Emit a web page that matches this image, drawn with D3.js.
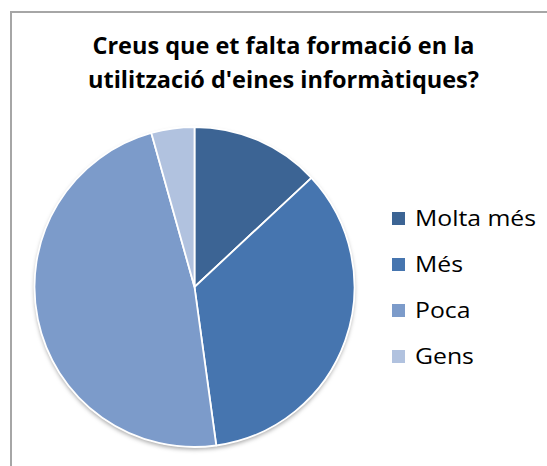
<!DOCTYPE html>
<html>
<head>
<meta charset="utf-8">
<script src="https://cdn.jsdelivr.net/npm/d3@7"></script>
<style>
  html, body { margin: 0; padding: 0; background: #fff; }
  svg { display: block; }
</style>
</head>
<body>
<svg id="chart" width="547" height="466"></svg>
<script>
// ---- data ----
const titleLines = ["Creus que et falta formació en la", "utilització d'eines informàtiques?"];
const categories = ["Molta més", "Més", "Poca", "Gens"];
const values = [3, 8, 11, 1];
const colors = ["#3C6494", "#4675AF", "#7C9BCA", "#B1C2DF"];

// ---- layout ----
const svg = d3.select("#chart");
const cx = 194.5, cy = 287, R = 160;
const fontFamily = "'Open Sans', 'Noto Sans', sans-serif";

// frame
svg.append("rect")
  .attr("x", 11).attr("y", 12)
  .attr("width", 600).attr("height", 600)
  .attr("fill", "#fff")
  .attr("stroke", "#a6a6a6").attr("stroke-width", 2);

// shadow filter
const defs = svg.append("defs");
const f = defs.append("filter").attr("id", "shadow")
  .attr("x", "-10%").attr("y", "-10%").attr("width", "120%").attr("height", "125%");
f.append("feDropShadow").attr("dx", 0).attr("dy", 2.5).attr("stdDeviation", 2)
  .attr("flood-color", "#000").attr("flood-opacity", 0.35);

// title
const titleWidths = [382, 391];
svg.append("g").selectAll("text").data(titleLines).join("text")
  .attr("x", 283.5)
  .attr("y", (d, i) => 54 + i * 34)
  .attr("text-anchor", "middle")
  .attr("font-family", fontFamily)
  .attr("font-weight", "bold")
  .attr("font-size", 24)
  .attr("fill", "#000")
  .text(d => d)
  .attr("textLength", (d, i) => titleWidths[i])
  .attr("lengthAdjust", "spacingAndGlyphs");

// pie
const pie = d3.pie().sort(null).value(d => d)(values);
const arc = d3.arc().innerRadius(0).outerRadius(R);
const g = svg.append("g").attr("transform", `translate(${cx},${cy})`);
g.append("circle").attr("r", R).attr("fill", "#fff").attr("filter", "url(#shadow)");
g.selectAll("path").data(pie).join("path")
  .attr("d", arc)
  .attr("fill", (d, i) => colors[i])
  .attr("stroke", "#fff")
  .attr("stroke-width", 1.8)
  .attr("stroke-linejoin", "round");

// legend
const legend = svg.append("g");
const item = legend.selectAll("g").data(categories).join("g")
  .attr("transform", (d, i) => `translate(392, ${212 + i * 46})`);
item.append("rect")
  .attr("width", 13).attr("height", 13)
  .attr("fill", (d, i) => colors[i]);
const texts = item.append("text")
  .attr("x", 23).attr("y", 14)
  .attr("font-family", fontFamily)
  .attr("font-size", 22)
  .attr("fill", "#000")
  .text(d => d);
const ref = texts.nodes()[0].getComputedTextLength();
const k = ref > 0 ? 121 / ref : 1;
texts.each(function() {
  const w = this.getComputedTextLength();
  d3.select(this).attr("textLength", w * k).attr("lengthAdjust", "spacingAndGlyphs");
});
</script>
</body>
</html>
